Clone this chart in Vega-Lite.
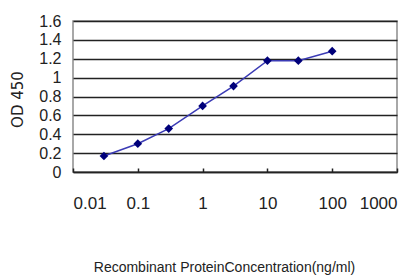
{
  "$schema": "https://vega.github.io/schema/vega-lite/v6.json",
  "autosize": "none",
  "width": 324,
  "height": 151,
  "padding": {"left": 73, "top": 21, "right": 18, "bottom": 105},
  "background": "white",
  "config": {
    "view": {"stroke": "#8c8c8c", "strokeWidth": 1.5},
    "axis": {"labelFont": "Liberation Sans", "titleFont": "Liberation Sans", "labelColor": "#222", "titleColor": "#222", "titleFontWeight": "normal"}
  },
  "data": {
    "values": [
      {"conc": 0.03, "od": 0.17},
      {"conc": 0.1, "od": 0.3},
      {"conc": 0.3, "od": 0.46},
      {"conc": 1, "od": 0.7},
      {"conc": 3, "od": 0.91},
      {"conc": 10, "od": 1.18},
      {"conc": 30, "od": 1.18},
      {"conc": 100, "od": 1.28}
    ]
  },
  "encoding": {
    "x": {
      "field": "conc", "type": "quantitative",
      "scale": {"type": "log", "domain": [0.01, 1000]},
      "axis": {
        "title": "Recombinant ProteinConcentration(ng/ml)",
        "values": [0.01, 0.1, 1, 10, 100, 1000],
        "format": "~g",
        "grid": false,
        "domainColor": "#222", "domainWidth": 1.5,
        "tickColor": "#222", "tickSize": -4, "tickWidth": 1.5,
        "labelFontSize": 17, "labelPadding": 27,
        "titleFontSize": 14, "titleX": 151, "titleY": 95, "titleBaseline": "middle", "titleAnchor": null
      }
    },
    "y": {
      "field": "od", "type": "quantitative",
      "scale": {"domain": [0, 1.6], "nice": false},
      "axis": {
        "title": "OD 450",
        "values": [0, 0.2, 0.4, 0.6, 0.8, 1, 1.2, 1.4, 1.6],
        "format": "~g",
        "grid": true, "gridColor": "#222", "gridWidth": 1.5,
        "domain": false, "ticks": false,
        "labelFontSize": 16, "labelPadding": 12,
        "titleFont": "DejaVu Sans", "titleFontSize": 15,
        "titleX": -56, "titleY": 78, "titleAngle": -90, "titleAlign": "center", "titleBaseline": "middle"
      }
    }
  },
  "layer": [
    {"mark": {"type": "line", "color": "#3b3bb5", "strokeWidth": 1.5}},
    {"mark": {"type": "point", "shape": "diamond", "filled": true, "size": 75, "color": "#00007a", "opacity": 1}}
  ]
}
